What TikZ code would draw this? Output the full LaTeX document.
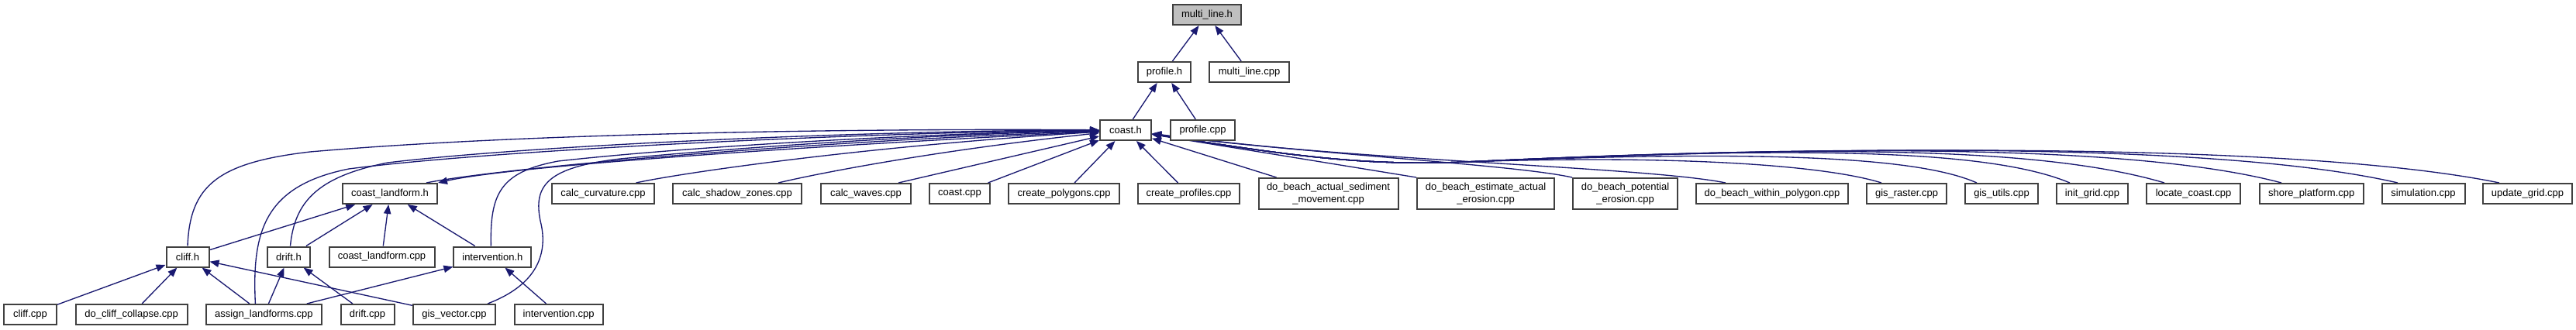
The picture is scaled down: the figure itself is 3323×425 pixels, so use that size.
\documentclass[tikz,border=0pt]{standalone}
\usepackage{fontspec}
\setmainfont{Liberation Sans}
\usetikzlibrary{arrows.meta,calc}
\definecolor{edgec}{HTML}{191970}
\definecolor{boxc}{HTML}{404040}
\definecolor{rootc}{HTML}{BFBFBF}
\pgfdeclarelayer{background}
\pgfsetlayers{background,main}
\begin{document}
\begin{tikzpicture}[x=0.75pt,y=-0.75pt,
  box/.style={draw=boxc,line width=1.5pt,fill=white,inner sep=0pt,minimum height=19.5pt,align=center,font={\fontsize{9.75}{11.75}\selectfont}},
  bw/.style={minimum width=#1*0.75pt},
  tall/.style={minimum height=30pt},
  edge/.style={draw=edgec,line width=1pt,-{Triangle[length=9pt,width=7pt]}}]
\useasboundingbox (0,0) rectangle (3323,425);
% nodes
\node[box,bw=88,fill=rootc] (mlh) at (1557,19) {multi\_line.h};
\node[box,bw=68] (profh) at (1502,93) {profile.h};
\node[box,bw=103] (mlcpp) at (1611.5,93) {multi\_line.cpp};
\node[box,bw=66] (coasth) at (1452,168) {coast.h};
\node[box,bw=83] (profcpp) at (1551.5,168) {profile.cpp};
\node[box,bw=122] (clh) at (503,250) {coast\_landform.h};
\node[box,bw=132] (ccurv) at (778,250) {calc\_curvature.cpp};
\node[box,bw=166] (cshad) at (951,250) {calc\_shadow\_zones.cpp};
\node[box,bw=116] (cwaves) at (1117,250) {calc\_waves.cpp};
\node[box,bw=78] (coastcpp) at (1238,250) {coast.cpp};
\node[box,bw=143] (cpoly) at (1372.5,250) {create\_polygons.cpp};
\node[box,bw=131] (cprof) at (1533.5,250) {create\_profiles.cpp};
\node[box,bw=180,tall] (dbasm) at (1713.5,250) {do\_beach\_actual\_sediment\\\_movement.cpp};
\node[box,bw=177,tall] (dbeae) at (1916.5,250) {do\_beach\_estimate\_actual\\\_erosion.cpp};
\node[box,bw=135,tall] (dbpe) at (2096.5,250) {do\_beach\_potential\\\_erosion.cpp};
\node[box,bw=196] (dbwp) at (2286,250) {do\_beach\_within\_polygon.cpp};
\node[box,bw=103] (graster) at (2459.5,250) {gis\_raster.cpp};
\node[box,bw=94] (gutils) at (2582,250) {gis\_utils.cpp};
\node[box,bw=92] (igrid) at (2699,250) {init\_grid.cpp};
\node[box,bw=121] (lcoast) at (2829.5,250) {locate\_coast.cpp};
\node[box,bw=134] (shore) at (2981.7,250) {shore\_platform.cpp};
\node[box,bw=107] (sim) at (3126,250) {simulation.cpp};
\node[box,bw=115] (ugrid) at (3260.5,250) {update\_grid.cpp};
\node[box,bw=55] (cliffh) at (242,331.5) {cliff.h};
\node[box,bw=55] (drifth) at (372.5,331.5) {drift.h};
\node[box,bw=136] (clcpp) at (492.5,331.5) {coast\_landform.cpp};
\node[box,bw=100] (intvh) at (635.4,331.5) {intervention.h};
\node[box,bw=68] (cliffcpp) at (39,406) {cliff.cpp};
\node[box,bw=144] (dcc) at (169.6,406) {do\_cliff\_collapse.cpp};
\node[box,bw=149] (assign) at (340.4,406) {assign\_landforms.cpp};
\node[box,bw=69] (driftcpp) at (474,406) {drift.cpp};
\node[box,bw=106] (gisvec) at (586,406) {gis\_vector.cpp};
\node[box,bw=114] (intvcpp) at (720.6,406) {intervention.cpp};
% edges
\begin{pgfonlayer}{background}
\draw[edge] (profh) -- (mlh);
\draw[edge] (mlcpp) -- (mlh);
\draw[edge] (coasth) -- (profh);
\draw[edge] (profcpp) -- (profh);
\draw[edge] (cprof) -- (coasth);
\draw[edge] (cpoly) -- (coasth);
\draw[edge] (coastcpp) -- (coasth);
\draw[edge] ($(cwaves.north)+(42,0)$) -- (coasth);
\draw[edge] ($(cshad.north)+(53,0)$) .. controls (1050,225) and (1200,195) .. (coasth);
\draw[edge] ($(ccurv.north)+(42.5,0)$) .. controls (870,225) and (1100,190) .. (coasth);
\draw[edge] (dbasm) -- (coasth);
\draw[edge] (dbeae.north west) -- (coasth);
\draw[edge] (dbpe.north west) .. controls (1950,212) and (1700,200) .. (coasth);
\draw[edge] ($(dbwp.north)+(-60,0)$) .. controls (2120,215) and (1750,208) .. (coasth);
\draw[edge] ($(graster.north)+(-32.5,0)$) .. controls (2350,212) and (2150,200) .. (1890,209) .. controls (1750,215) and (1650,198) .. (coasth);
\draw[edge] ($(gutils.north)+(-32,0)$) .. controls (2480,205) and (2300,192) .. (1890,209) .. controls (1750,215) and (1650,198) .. (coasth);
\draw[edge] ($(igrid.north)+(-29,0)$) .. controls (2560,190) and (2300,190) .. (1890,209) .. controls (1750,215) and (1650,198) .. (coasth);
\draw[edge] ($(lcoast.north)+(-37.5,0)$) .. controls (2620,185) and (2300,190) .. (1890,209) .. controls (1750,215) and (1650,198) .. (coasth);
\draw[edge] ($(shore.north)+(-38.7,0)$) .. controls (2740,182) and (2300,190) .. (1890,209) .. controls (1750,215) and (1650,198) .. (coasth);
\draw[edge] ($(sim.north)+(-33,0)$) .. controls (2850,180) and (2300,190) .. (1890,209) .. controls (1750,215) and (1650,198) .. (coasth);
\draw[edge] ($(ugrid.north)+(-36.5,0)$) .. controls (2950,180) and (2300,190) .. (1890,209) .. controls (1750,215) and (1650,198) .. (coasth);
% left curves to coast.h
\draw[edge] (cliffh.north) .. controls (245,240) and (280,210) .. (400,196) .. controls (700,170) and (1150,166) .. (coasth);
\draw[edge] ($(assign.north)+(-11,0)$) .. controls (325,300) and (340,240) .. (450,218) .. controls (650,192) and (1150,170) .. (coasth);
\draw[edge] ($(drifth.north)+(2,0)$) .. controls (380,260) and (410,228) .. (500,210) .. controls (700,186) and (1150,168) .. (coasth);
\draw[edge] ($(intvh.north)+(-2,0)$) .. controls (632,250) and (645,222) .. (720,208) .. controls (900,188) and (1200,172) .. (coasth);
\draw[edge] ($(gisvec.north east)+(-11,0)$) .. controls (700,365) and (706,320) .. (697,285) .. controls (688,240) and (705,216) .. (800,205) .. controls (1000,186) and (1250,172) .. (coasth);
\draw[edge] ($(clh.north)+(47,0)$) .. controls (650,216) and (1050,182) .. (coasth);
\draw[edge] (coasth) .. controls (1050,188) and (660,214) .. (clh.north east);
% lower part
\draw[edge] (cliffh) -- (clh);
\draw[edge] (drifth) -- (clh);
\draw[edge] (clcpp) -- (clh);
\draw[edge] (intvh) -- (clh);
\draw[edge] (cliffcpp) -- (cliffh);
\draw[edge] (dcc) -- (cliffh);
\draw[edge] (assign) -- (cliffh);
\draw[edge] (gisvec) -- (cliffh);
\draw[edge] (assign) -- (drifth);
\draw[edge] (driftcpp) -- (drifth);
\draw[edge] (assign) -- (intvh);
\draw[edge] (intvcpp) -- (intvh);
\end{pgfonlayer}
\end{tikzpicture}
\end{document}
